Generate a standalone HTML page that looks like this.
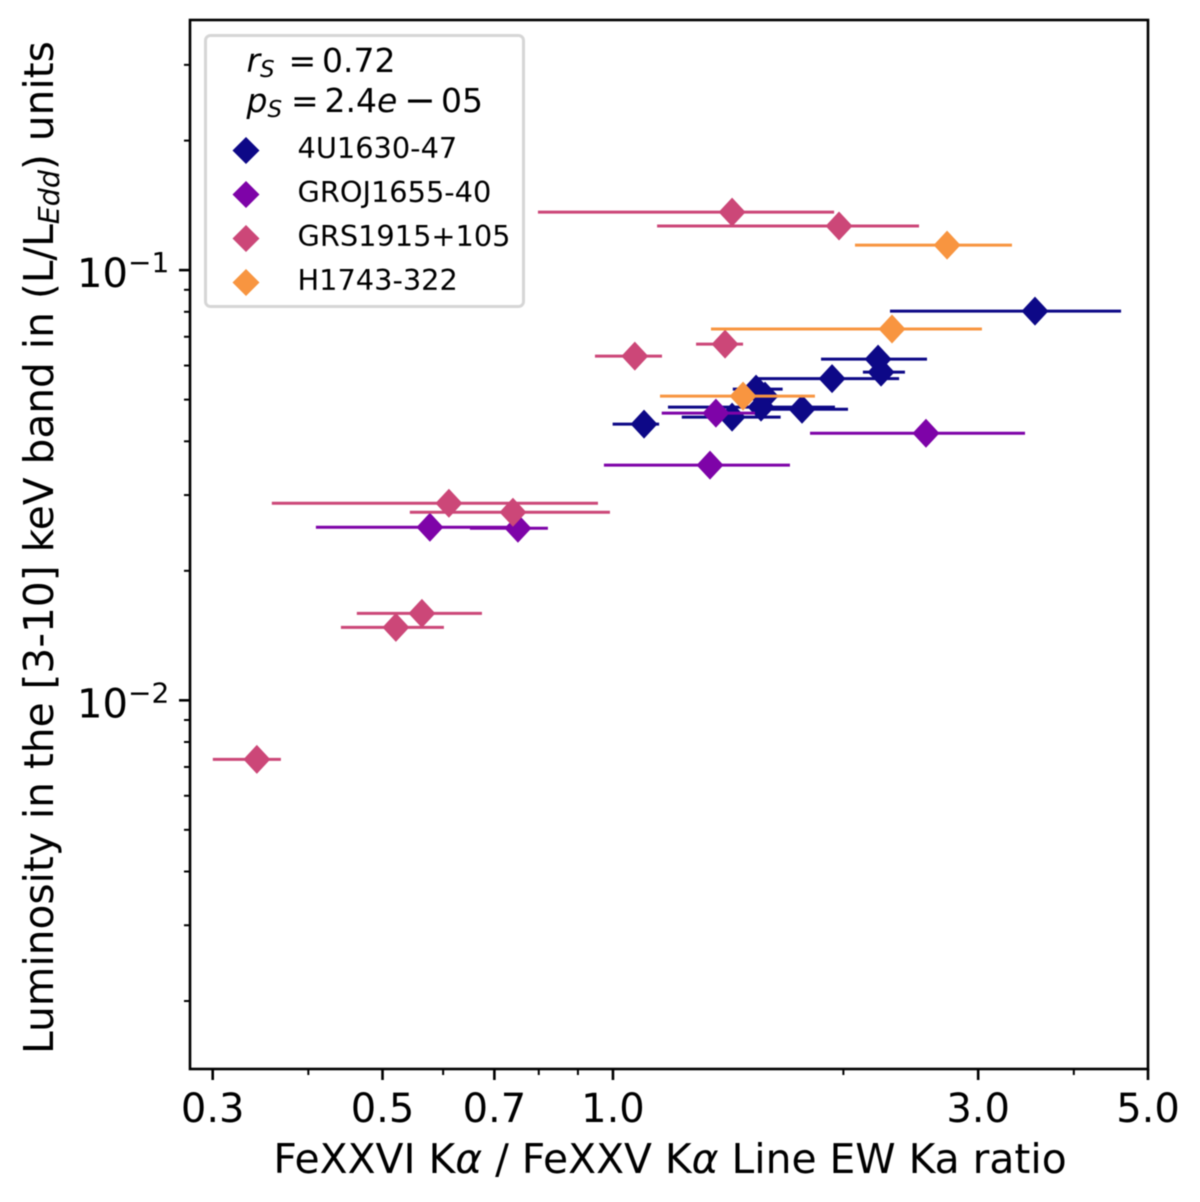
<!DOCTYPE html>
<html>
<head>
<meta charset="utf-8">
<title>Luminosity vs line EW ratio</title>
<style>
html,body{margin:0;padding:0;background:#fff;width:1200px;height:1202px;overflow:hidden}
svg{display:block;filter:blur(0.55px)}
text{font-family:"DejaVu Sans","Liberation Sans",sans-serif;fill:#000}
</style>
</head>
<body>
<svg id="chart" xmlns="http://www.w3.org/2000/svg" width="1200" height="1202" viewBox="0 0 1200 1202">
  <rect x="0" y="0" width="1200" height="1202" fill="#ffffff"/>
  <g id="series-layer"></g>
  <g id="tick-layer"></g>
  <rect x="190" y="20" width="958" height="1049" fill="none" stroke="#000" stroke-width="2.6"/>

  <text x="670" y="1173" font-size="40.8" text-anchor="middle">FeXXVI K<tspan font-style="italic">α</tspan> / FeXXV K<tspan font-style="italic">α</tspan> Line EW Ka ratio</text>
  <text transform="translate(53,1054) rotate(-90)" font-size="40.7">Luminosity in the [3-10] keV band in (L/L<tspan font-size="28.5" font-style="italic" dy="6">Edd</tspan><tspan dy="-6">) units</tspan></text>

  <g>
    <rect x="205.5" y="35.5" width="318" height="271" rx="5" ry="5" fill="#ffffff" fill-opacity="0.9" stroke="#d6d6d6" stroke-width="3"/>
    <g font-size="33">
      <text x="246.5" y="72" font-style="italic">r</text>
      <text x="260" y="77" font-size="23" font-style="italic">S</text>
      <text x="288.5" y="72">=</text>
      <text x="322" y="72">0.72</text>
    </g>
    <g font-size="33">
      <text x="246.5" y="112" font-style="italic">p</text>
      <text x="267.5" y="117" font-size="23" font-style="italic">S</text>
      <text x="291" y="112">=</text>
      <text x="324.5" y="112">2.4</text>
      <text x="377" y="112" font-style="italic">e</text>
      <text x="404" y="113" font-size="38">−</text>
      <text x="441" y="112">05</text>
    </g>
    <g>
      <polygon points="246,137 259.5,150.5 246,164 232.5,150.5" fill="#0d0887"/>
      <text x="297.5" y="158" font-size="28.8">4U1630-47</text>
    </g>
    <g>
      <polygon points="246,181 259.5,194.5 246,208 232.5,194.5" fill="#7e03a8"/>
      <text x="297.5" y="202" font-size="28.8">GROJ1655-40</text>
    </g>
    <g>
      <polygon points="246,225 259.5,238.5 246,252 232.5,238.5" fill="#cc4778"/>
      <text x="297.5" y="246" font-size="28.8">GRS1915+105</text>
    </g>
    <g>
      <polygon points="246,269 259.5,282.5 246,296 232.5,282.5" fill="#f89540"/>
      <text x="297.5" y="290" font-size="28.8">H1743-322</text>
    </g>
  </g>
</svg>
<script>
// Tick values and labels
const xMajorTicks = [0.3, 0.5, 0.7, 1.0, 3.0, 5.0];
const xMajorLabels = ['0.3', '0.5', '0.7', '1.0', '3.0', '5.0'];
const xMinorTicks = [0.4, 0.6, 0.8, 0.9, 2, 4];
const yMajorTicks = [0.1, 0.01];
const yMajorExponents = ['−1', '−2'];
const yMinorTicks = [0.002, 0.003, 0.004, 0.005, 0.006, 0.007, 0.008, 0.009,
                     0.02, 0.03, 0.04, 0.05, 0.06, 0.07, 0.08, 0.09, 0.2, 0.3];

// Categories
const sourceNames = ['4U1630-47', 'GROJ1655-40', 'GRS1915+105', 'H1743-322'];

// 4U1630-47
const ratio4U = [1.098, 1.431, 1.538, 1.580, 1.561, 1.766, 1.933, 2.220, 2.240, 3.559];
const ratioLow4U = [0.999, 1.230, 1.434, 1.519, 1.180, 1.542, 1.533, 1.870, 2.121, 2.301];
const ratioHigh4U = [1.149, 1.656, 1.666, 1.643, 1.950, 2.028, 2.365, 2.572, 2.407, 4.611];
const lum4U = [0.04385, 0.04552, 0.05288, 0.05093, 0.04802, 0.04750, 0.05594, 0.06209, 0.05793, 0.08030];

// GROJ1655-40
const ratioGRO = [0.5766, 0.7514, 1.339, 1.363, 2.564];
const ratioLowGRO = [0.4092, 0.6504, 0.9732, 1.158, 1.809];
const ratioHighGRO = [0.7559, 0.8223, 1.703, 1.533, 3.454];
const lumGRO = [0.02525, 0.02512, 0.03521, 0.04650, 0.04177];

// GRS1915+105
const ratioGRS = [0.3426, 0.5205, 0.5629, 0.6105, 0.7402, 1.068, 1.401, 1.431, 1.974];
const ratioLowGRS = [0.3001, 0.4412, 0.4628, 0.3584, 0.5428, 0.9473, 1.284, 0.7980, 1.142];
const ratioHighGRS = [0.3683, 0.6014, 0.6743, 0.9559, 0.9910, 1.159, 1.479, 1.945, 2.511];
const lumGRS = [0.007291, 0.01478, 0.01593, 0.02871, 0.02737, 0.06310, 0.06729, 0.1364, 0.1266];

// H1743-322
const ratioH = [1.479, 2.315, 2.732];
const ratioLowH = [1.152, 1.343, 2.071];
const ratioHighH = [1.836, 3.034, 3.321];
const lumH = [0.05093, 0.07295, 0.1143];

const SVGNS = 'http://www.w3.org/2000/svg';
const plotLeft = 190, plotRight = 1148, plotTop = 20, plotBottom = 1069;
const xDomainMin = 0.2802, xDomainMax = 5.0;
const yDomainMin = 0.00139, yDomainMax = 0.3814;

function xScale(v) {
  return plotLeft + (plotRight - plotLeft) * (Math.log10(v) - Math.log10(xDomainMin)) / (Math.log10(xDomainMax) - Math.log10(xDomainMin));
}
function yScale(v) {
  return plotBottom - (plotBottom - plotTop) * (Math.log10(v) - Math.log10(yDomainMin)) / (Math.log10(yDomainMax) - Math.log10(yDomainMin));
}

function make(tag, attrs, parent) {
  const el = document.createElementNS(SVGNS, tag);
  for (const k in attrs) el.setAttribute(k, attrs[k]);
  parent.appendChild(el);
  return el;
}

const tickLayer = document.getElementById('tick-layer');
const seriesLayer = document.getElementById('series-layer');

xMajorTicks.forEach(function (v, i) {
  const x = xScale(v);
  const tick = make('line', {x1: x, x2: x, y1: plotBottom, y2: plotBottom + 11, stroke: '#000', 'stroke-width': 2.6}, tickLayer);
  
  
  const label = make('text', {x: x, y: 1122, 'font-size': 40, 'text-anchor': 'middle'}, tickLayer);
  label.textContent = xMajorLabels[i];
  
  
});

xMinorTicks.forEach(function (v) {
  const x = xScale(v);
  const tick = make('line', {x1: x, x2: x, y1: plotBottom, y2: plotBottom + 6, stroke: '#000', 'stroke-width': 2}, tickLayer);
  
  
});

yMajorTicks.forEach(function (v, i) {
  const y = yScale(v);
  const tick = make('line', {x1: plotLeft, x2: plotLeft - 11, y1: y, y2: y, stroke: '#000', 'stroke-width': 2.6}, tickLayer);
  
  
  const base = make('text', {x: 77, y: y + 17, 'font-size': 40}, tickLayer);
  base.textContent = '10';
  
  
  const exp = make('text', {x: 128, y: y + 2, 'font-size': 28}, tickLayer);
  exp.textContent = yMajorExponents[i];
  
  
});

yMinorTicks.forEach(function (v) {
  const y = yScale(v);
  const tick = make('line', {x1: plotLeft, x2: plotLeft - 6, y1: y, y2: y, stroke: '#000', 'stroke-width': 2}, tickLayer);
  
  
});

function drawSeries(name, color, ratios, lows, highs, lums) {
  const group = make('g', {}, seriesLayer);
  
  
  ratios.forEach(function (r, i) {
    const y = yScale(lums[i]);
    const bar = make('line', {x1: xScale(lows[i]), x2: xScale(highs[i]), y1: y, y2: y, stroke: color, 'stroke-width': 3}, group);
    
    
  });
  ratios.forEach(function (r, i) {
    const x = xScale(r), y = yScale(lums[i]);
    const pts = [[x, y - 14.5], [x + 13.5, y], [x, y + 14.5], [x - 13.5, y]].map(function (p) { return p.join(','); }).join(' ');
    const point = make('polygon', {points: pts, fill: color}, group);
    
    
  });
}

drawSeries(sourceNames[0], '#0d0887', ratio4U, ratioLow4U, ratioHigh4U, lum4U);
drawSeries(sourceNames[1], '#7e03a8', ratioGRO, ratioLowGRO, ratioHighGRO, lumGRO);
drawSeries(sourceNames[2], '#cc4778', ratioGRS, ratioLowGRS, ratioHighGRS, lumGRS);
drawSeries(sourceNames[3], '#f89540', ratioH, ratioLowH, ratioHighH, lumH);
</script>
</body>
</html>
